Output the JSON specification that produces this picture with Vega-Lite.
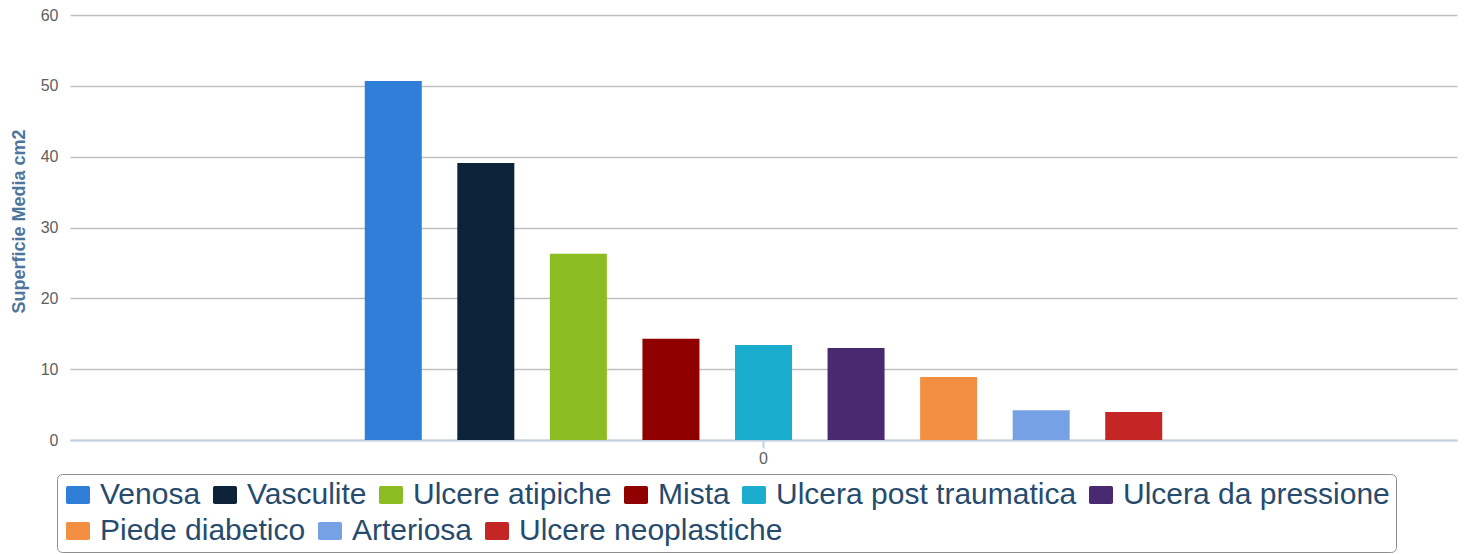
{
  "$schema": "https://vega.github.io/schema/vega-lite/v6.json",
  "width": 1387,
  "height": 425,
  "autosize": "none",
  "padding": {"left": 70, "top": 15, "right": 10, "bottom": 114},
  "background": "white",
  "data": {
    "values": [
      {"g": "0", "tipo": "Venosa", "valore": 50.7},
      {"g": "0", "tipo": "Vasculite", "valore": 39.1},
      {"g": "0", "tipo": "Ulcere atipiche", "valore": 26.3},
      {"g": "0", "tipo": "Mista", "valore": 14.3},
      {"g": "0", "tipo": "Ulcera post traumatica", "valore": 13.4},
      {"g": "0", "tipo": "Ulcera da pressione", "valore": 13.0},
      {"g": "0", "tipo": "Piede diabetico", "valore": 8.9},
      {"g": "0", "tipo": "Arteriosa", "valore": 4.2},
      {"g": "0", "tipo": "Ulcere neoplastiche", "valore": 3.95}
    ]
  },
  "encoding": {
    "x": {
      "field": "g",
      "type": "nominal",
      "scale": {"paddingInner": 0, "paddingOuter": 0.3325},
      "axis": {
        "title": null,
        "labelAngle": 0,
        "labelFont": "Liberation Sans",
        "labelFontSize": 16,
        "labelColor": "#606060",
        "labelPadding": 2,
        "domainColor": "#C0D0E0",
        "domainWidth": 2,
        "tickColor": "#C0D0E0",
        "tickSize": 8,
        "tickWidth": 2,
        "grid": false
      }
    },
    "xOffset": {
      "field": "tipo",
      "type": "nominal",
      "sort": null,
      "scale": {
        "domain": ["Venosa", "Vasculite", "Ulcere atipiche", "Mista", "Ulcera post traumatica", "Ulcera da pressione", "Piede diabetico", "Arteriosa", "Ulcere neoplastiche"],
        "paddingInner": 0.384,
        "paddingOuter": 0.192
      }
    },
    "y": {
      "field": "valore",
      "type": "quantitative",
      "scale": {"domain": [0, 60], "nice": false},
      "axis": {
        "title": "Superficie Media cm2",
        "titleFont": "Liberation Sans",
        "titleFontSize": 18,
        "titleFontWeight": "bold",
        "titleColor": "#4d759e",
        "titlePadding": 12,
        "titleY": 206,
        "values": [0, 10, 20, 30, 40, 50, 60],
        "labelFont": "Liberation Sans",
        "labelFontSize": 16,
        "labelColor": "#606060",
        "labelPadding": 12,
        "ticks": false,
        "tickSize": 0,
        "domain": false,
        "grid": true,
        "gridColor": "#C0C0C0",
        "gridWidth": 1.5
      }
    }
  },
  "layer": [
    {
      "transform": [{"filter": {"field": "tipo", "oneOf": ["Venosa", "Vasculite", "Ulcere atipiche", "Mista", "Ulcera post traumatica", "Ulcera da pressione"]}}],
      "mark": {"type": "bar"},
      "encoding": {
        "color": {
          "field": "tipo",
          "type": "nominal",
          "sort": null,
          "scale": {
            "domain": ["Venosa", "Vasculite", "Ulcere atipiche", "Mista", "Ulcera post traumatica", "Ulcera da pressione"],
            "range": ["#2F7ED8", "#0D233A", "#8BBC21", "#910000", "#1AADCE", "#492970"]
          },
          "legend": {
            "title": " ",
            "titleOrient": "bottom",
            "titleFontSize": 30,
            "titlePadding": 6,
            "orient": "none",
            "legendX": -13,
            "legendY": 459,
            "direction": "horizontal",
            "padding": 6,
            "strokeColor": "#909090",
            "cornerRadius": 5,
            "symbolType": "M -1 -0.6 Q -1 -0.75 -0.85 -0.75 H 0.85 Q 1 -0.75 1 -0.6 V 0.6 Q 1 0.75 0.85 0.75 H -0.85 Q -1 0.75 -1 0.6 Z",
            "symbolSize": 576,
            "symbolStrokeWidth": 0,
            "labelFont": "Liberation Sans",
            "labelFontSize": 30,
            "labelColor": "#274b6d",
            "labelOffset": 7,
            "labelLimit": 0,
            "columnPadding": 9
          }
        }
      }
    },
    {
      "transform": [{"filter": {"field": "tipo", "oneOf": ["Piede diabetico", "Arteriosa", "Ulcere neoplastiche"]}}],
      "mark": {"type": "bar"},
      "encoding": {
        "color": {
          "field": "tipo",
          "type": "nominal",
          "sort": null,
          "scale": {
            "domain": ["Piede diabetico", "Arteriosa", "Ulcere neoplastiche"],
            "range": ["#F28F43", "#77A1E5", "#C42525"]
          },
          "legend": {
            "title": null,
            "orient": "none",
            "legendX": -13,
            "legendY": 495,
            "direction": "horizontal",
            "padding": 6,
            "symbolType": "M -1 -0.6 Q -1 -0.75 -0.85 -0.75 H 0.85 Q 1 -0.75 1 -0.6 V 0.6 Q 1 0.75 0.85 0.75 H -0.85 Q -1 0.75 -1 0.6 Z",
            "symbolSize": 576,
            "symbolStrokeWidth": 0,
            "labelFont": "Liberation Sans",
            "labelFontSize": 30,
            "labelColor": "#274b6d",
            "labelOffset": 7,
            "labelLimit": 0,
            "columnPadding": 9
          }
        }
      }
    }
  ],
  "resolve": {"scale": {"color": "independent"}},
  "config": {"view": {"stroke": null}}
}
